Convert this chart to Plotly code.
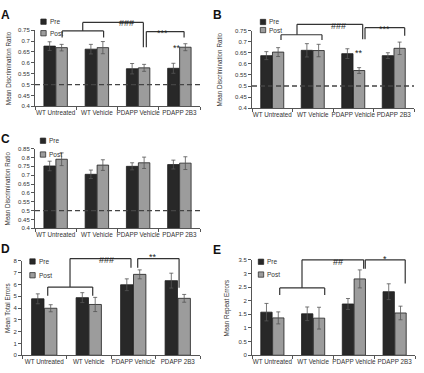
import plotly.graph_objects as go

categories = ["WT Untreated", "WT Vehicle", "PDAPP Vehicle", "PDAPP 2B3"]

a_pre = [0.677, 0.663, 0.573, 0.575]
a_post = [0.670, 0.670, 0.577, 0.672]
a_pre_err = [0.020, 0.022, 0.024, 0.023]
a_post_err = [0.015, 0.028, 0.016, 0.016]

b_pre = [0.637, 0.661, 0.646, 0.637]
b_post = [0.653, 0.660, 0.570, 0.670]
b_pre_err = [0.018, 0.030, 0.022, 0.013]
b_post_err = [0.020, 0.028, 0.013, 0.028]

c_pre = [0.752, 0.705, 0.750, 0.760]
c_post = [0.790, 0.757, 0.770, 0.768]
c_pre_err = [0.027, 0.024, 0.020, 0.025]
c_post_err = [0.036, 0.030, 0.032, 0.036]

d_pre = [4.78, 4.88, 5.97, 6.32]
d_post = [3.98, 4.30, 6.85, 4.82]
d_pre_err = [0.42, 0.42, 0.50, 0.63]
d_post_err = [0.30, 0.60, 0.38, 0.33]

e_pre = [1.58, 1.52, 1.88, 2.33]
e_post = [1.37, 1.36, 2.80, 1.55]
e_pre_err = [0.32, 0.25, 0.20, 0.29]
e_post_err = [0.22, 0.40, 0.33, 0.25]

series_names = ["Pre", "Post"]

W, H = 424, 373
FONT = "Liberation Sans, Arial, sans-serif"
TXT = "#333333"
PRE_C = "#282828"
POST_C = "#9c9c9c"

def fx(px):
    return px / W

def fy(py):
    return 1 - py / H

# layout per panel (pixel boxes)
panels = [
    dict(key="A", pre=a_pre, post=a_post, pe=a_pre_err, qe=a_post_err,
         xpx=(35, 200), ypx=(27.7, 105), rng=(0.4, 0.75), dt=0.05,
         title="Mean Discrimination Ratio", tx=8, lab=(5, 12), leg=(43.5, 19, 30.7),
         dashed=True,
         brackets=[[(0.158, 0.717), (0.158, 0.747), (1.163, 0.747), (1.163, 0.717)],
                   [(0.657, 0.747), (0.657, 0.786), (2.127, 0.786), (2.127, 0.672)],
                   [(2.199, 0.672), (2.199, 0.744), (3.114, 0.744), (3.114, 0.717)]],
         sig=[("###", 1.717, 0.815), ("***", 2.584, 0.768), ("**", 2.95, 0.700)]),
    dict(key="B", pre=b_pre, post=b_post, pe=b_pre_err, qe=b_post_err,
         xpx=(252, 414), ypx=(28, 107), rng=(0.4, 0.75), dt=0.05,
         title="Mean Discrimination Ratio", tx=219, lab=(217, 12), leg=(263, 19.3, 27.5),
         dashed=True,
         brackets=[[(0.216, 0.707), (0.216, 0.731), (1.228, 0.731), (1.228, 0.707)],
                   [(0.611, 0.731), (0.611, 0.778), (2.233, 0.778), (2.233, 0.711)],
                   [(2.29, 0.711), (2.29, 0.763), (3.27, 0.763), (3.27, 0.727)]],
         sig=[("###", 1.648, 0.804), ("***", 2.78, 0.787), ("**", 2.13, 0.682)]),
    dict(key="C", pre=c_pre, post=c_post, pe=c_pre_err, qe=c_post_err,
         xpx=(35, 200), ypx=(148, 229), rng=(0.4, 0.85), dt=0.05,
         title="Mean Discrimination Ratio", tx=7, lab=(5, 138.5), leg=(43, 140, 154),
         dashed=True, brackets=[], sig=[]),
    dict(key="D", pre=d_pre, post=d_post, pe=d_pre_err, qe=d_post_err,
         xpx=(22, 200), ypx=(262, 358), rng=(0, 8), dt=1,
         title="Mean Total Errors", tx=7, lab=(5, 250), leg=(32.5, 262.7, 276.7),
         dashed=False,
         brackets=[[(0.078, 5.03), (0.078, 5.77), (1.089, 5.77), (1.089, 5.03)],
                   [(0.579, 5.77), (0.579, 8.19), (1.949, 8.19), (1.949, 7.4)],
                   [(2.10, 7.4), (2.10, 8.19), (3.03, 8.19), (3.03, 5.72)]],
         sig=[("###", 1.40, 8.66), ("**", 2.44, 8.95)]),
    dict(key="E", pre=e_pre, post=e_post, pe=e_pre_err, qe=e_post_err,
         xpx=(252, 415), ypx=(261, 358), rng=(0, 3.5), dt=0.5,
         title="Mean Repeat Errors", tx=227, lab=(217, 251), leg=(261, 263, 276),
         dashed=False,
         brackets=[[(0.18, 2.21), (0.18, 2.47), (1.284, 2.47), (1.284, 2.21)],
                   [(0.727, 2.47), (0.727, 3.5), (2.24, 3.5), (2.24, 3.17)],
                   [(2.28, 3.17), (2.28, 3.5), (3.26, 3.5), (3.26, 2.63)]],
         sig=[("##", 1.61, 3.68), ("*", 2.77, 3.78)]),
]

fig = go.Figure()
shapes = []
annotations = []
xpos = list(range(len(categories)))

for i, p in enumerate(panels, start=1):
    xa = "x" if i == 1 else f"x{i}"
    ya = "y" if i == 1 else f"y{i}"
    for name, vals, errs, col in ((series_names[0], p["pre"], p["pe"], PRE_C),
                                  (series_names[1], p["post"], p["qe"], POST_C)):
        fig.add_trace(go.Bar(
            x=xpos, y=vals, name=name, xaxis=xa, yaxis=ya, showlegend=False,
            marker=dict(color=col, line=dict(color="#1e1e1e", width=0.8)),
            error_y=dict(type="data", array=errs, visible=True,
                         color="#555555", thickness=0.8, width=2),
            offsetgroup=name, hovertemplate="%{y}<extra>" + name + "</extra>",
        ))
    r0, r1 = p["rng"]
    n = int(round((r1 - r0) / p["dt"]))
    tv = [round(r0 + k * p["dt"], 4) for k in range(n + 1)]
    tt = [f"{v:g}" for v in tv]
    fig.layout[("xaxis" if i == 1 else f"xaxis{i}")] = dict(
        domain=[fx(p["xpx"][0]), fx(p["xpx"][1])], anchor=ya,
        range=[-0.5, 3.5], tickmode="array", tickvals=xpos, ticktext=categories,
        tickangle=0, ticks="", showline=True, linecolor="#555555", linewidth=1,
        showgrid=False, zeroline=False, fixedrange=True,
        tickfont=dict(family=FONT, size=6.3, color=TXT),
        minor=dict(tickmode="array", tickvals=[-0.5, 0.5, 1.5, 2.5, 3.5],
                   ticks="outside", ticklen=3, tickcolor="#555555", showgrid=False),
    )
    fig.layout[("yaxis" if i == 1 else f"yaxis{i}")] = dict(
        domain=[fy(p["ypx"][1]), fy(p["ypx"][0])], anchor=xa,
        range=[r0, r1], tickmode="array", tickvals=tv, ticktext=tt,
        ticks="outside", ticklen=3, tickcolor="#555555",
        showline=True, linecolor="#555555", linewidth=1,
        showgrid=False, zeroline=False, fixedrange=True,
        tickfont=dict(family=FONT, size=6, color=TXT),
    )
    span = r1 - r0
    ydom = ya + " domain"
    if p["dashed"]:
        shapes.append(dict(type="line", xref=xa, yref=ya, x0=-0.5, x1=3.5, y0=0.5, y1=0.5,
                           line=dict(color="#444444", width=1.4, dash="5px,3px")))
    for br in p["brackets"]:
        for (xa0, ya0), (xa1, ya1) in zip(br[:-1], br[1:]):
            shapes.append(dict(type="line", xref=xa, yref=ydom,
                               x0=xa0, x1=xa1, y0=(ya0 - r0) / span, y1=(ya1 - r0) / span,
                               line=dict(color="#333333", width=1.2)))
    for txt, sx, sy in p["sig"]:
        annotations.append(dict(text=txt, xref=xa, yref=ydom, x=sx, y=(sy - r0) / span,
                                showarrow=False, font=dict(family=FONT, size=9, color="#222222")))
    # panel letter
    annotations.append(dict(text="<b>" + p["key"] + "</b>", xref="paper", yref="paper",
                            x=fx(p["lab"][0]), y=fy(p["lab"][1]), xanchor="center", yanchor="middle",
                            showarrow=False, font=dict(family=FONT, size=12, color="#111111")))
    # y title
    annotations.append(dict(text=p["title"], xref="paper", yref="paper",
                            x=fx(p["tx"]), y=(fy(p["ypx"][0]) + fy(p["ypx"][1])) / 2,
                            textangle=-90, xanchor="center", yanchor="middle", showarrow=False,
                            font=dict(family=FONT, size=6.3, color=TXT)))
    # legend
    lx, ly1, ly2 = p["leg"]
    for nm, col, ly in ((series_names[0], PRE_C, ly1), (series_names[1], POST_C, ly2)):
        shapes.append(dict(type="rect", xref="paper", yref="paper",
                           x0=fx(lx - 2.7), x1=fx(lx + 2.7), y0=fy(ly + 2.7), y1=fy(ly - 2.7),
                           fillcolor=col, line=dict(color="#1e1e1e", width=0.7)))
        annotations.append(dict(text=nm, xref="paper", yref="paper", x=fx(lx + 4), y=fy(ly),
                                xanchor="left", yanchor="middle", showarrow=False,
                                font=dict(family=FONT, size=6.5, color=TXT)))

fig.update_layout(
    width=W, height=H, margin=dict(l=0, r=0, t=0, b=0),
    paper_bgcolor="white", plot_bgcolor="white",
    barmode="group", bargap=0.42, bargroupgap=0.04,
    shapes=shapes, annotations=annotations, showlegend=False,
    font=dict(family=FONT, size=7, color=TXT),
)

fig.write_html("out.html")
